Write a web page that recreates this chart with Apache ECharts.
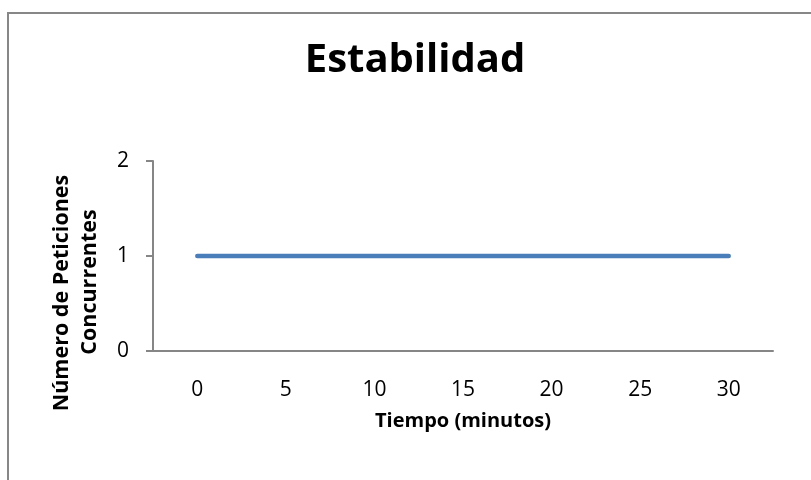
<!DOCTYPE html>
<html>
<head>
<meta charset="utf-8">
<script src="https://cdn.jsdelivr.net/npm/echarts@6/dist/echarts.min.js"></script>
<style>
  html, body { margin: 0; padding: 0; background: #fff; }
  #chart { width: 811px; height: 480px; }
</style>
</head>
<body>
<div id="chart"></div>
<script>
// Elapsed time in minutes and concurrent request count sampled at each point
const minutes = ['0', '5', '10', '15', '20', '25', '30'];
const concurrentRequests = [1, 1, 1, 1, 1, 1, 1];
const yTicks = [0, 1, 2];

const FONT = '"Open Sans", "Noto Sans", sans-serif';
const AXIS_GRAY = '#868686';

const chart = echarts.init(document.getElementById('chart'), null, { renderer: 'canvas' });

// rotated two-line y-axis title, one text element per line
function yTitleLine(text, x, y) {
  return {
    type: 'text',
    x: x,
    y: y,
    rotation: Math.PI / 2,
    style: {
      text: text,
      font: 'bold 21.5px ' + FONT,
      fill: '#000',
      align: 'center',
      verticalAlign: 'middle'
    },
    silent: true
  };
}

chart.setOption({
  backgroundColor: '#ffffff',
  animation: false,
  title: {
    text: 'Estabilidad',
    left: 410,
    top: 36,
    textAlign: 'center',
    textStyle: { fontFamily: FONT, fontWeight: 'bold', fontSize: 40, color: '#000' }
  },
  graphic: [
    {
      // chart frame
      type: 'rect',
      shape: { x: 8, y: 13, width: 900, height: 600 },
      style: { fill: 'none', stroke: '#878787', lineWidth: 2 },
      silent: true
    },
    yTitleLine('Número de Peticiones', 62, 293),
    yTitleLine('Concurrentes', 90, 282)
  ],
  grid: { left: 153, top: 161, right: 38, bottom: 129, containLabel: false },
  xAxis: {
    type: 'category',
    data: minutes,
    boundaryGap: true,
    name: 'Tiempo (minutos)',
    nameLocation: 'middle',
    nameGap: 60,
    nameTextStyle: { fontFamily: FONT, fontWeight: 'bold', fontSize: 20, color: '#000' },
    axisLine: { lineStyle: { color: AXIS_GRAY, width: 2 } },
    axisTick: { show: false },
    axisLabel: { fontFamily: FONT, fontSize: 21, color: '#000', margin: 29 },
    splitLine: { show: false }
  },
  yAxis: {
    type: 'value',
    min: yTicks[0],
    max: yTicks[yTicks.length - 1],
    interval: 1,
    axisLine: { show: true, lineStyle: { color: AXIS_GRAY, width: 2 } },
    axisTick: { show: true, length: 7, lineStyle: { color: AXIS_GRAY, width: 2 } },
    axisLabel: { fontFamily: FONT, fontSize: 21, color: '#000', margin: 24 },
    splitLine: { show: false }
  },
  series: [{
    type: 'line',
    data: concurrentRequests,
    showSymbol: false,
    symbol: 'none',
    lineStyle: { color: '#4a7ebb', width: 4.5, cap: 'round' },
    itemStyle: { color: '#4a7ebb' }
  }]
});
</script>
</body>
</html>
